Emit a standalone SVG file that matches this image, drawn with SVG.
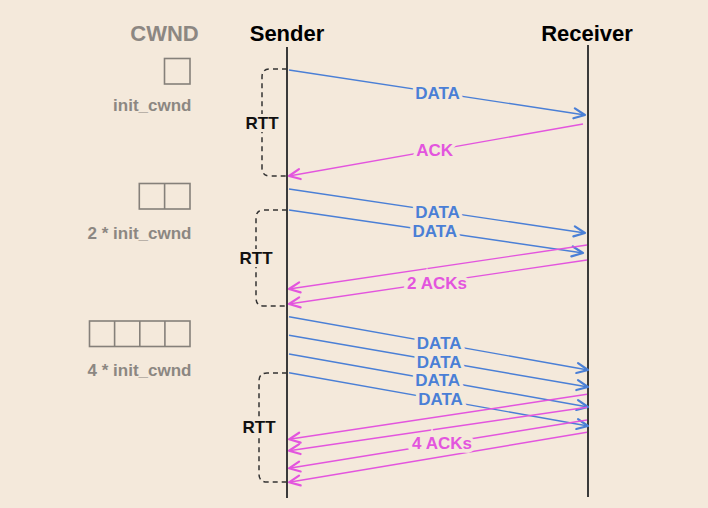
<svg xmlns="http://www.w3.org/2000/svg" width="708" height="508" viewBox="0 0 708 508">
<style>
  text { font-family: "Liberation Sans", Arial, sans-serif; font-weight: bold; }
  .hdr { font-size: 22px; fill: #000; text-anchor: middle; }
  .cw { font-size: 22px; fill: #8c8782; text-anchor: middle; }
  .cwl { font-size: 17px; fill: #8c8782; text-anchor: end; }
  .box { fill: none; stroke: #85807a; stroke-width: 1.6; }
  .life { stroke: #3a3a3a; stroke-width: 2; }
  .rtt { fill: none; stroke: #333; stroke-width: 1.5; stroke-dasharray: 5 4; }
  .rttl { font-size: 17px; fill: #111; text-anchor: middle; paint-order: stroke; stroke: #f4e9db; stroke-width: 6px; }
  .data { stroke: #4a7fd6; stroke-width: 1.4; fill: none; marker-end: url(#ab); }
  .ack { stroke: #e355de; stroke-width: 1.4; fill: none; marker-end: url(#am); }
  .dl { font-size: 17px; fill: #4a7fd6; text-anchor: middle; paint-order: stroke; stroke: #f4e9db; stroke-width: 7px; }
  .al { font-size: 17px; fill: #e355de; text-anchor: middle; paint-order: stroke; stroke: #f4e9db; stroke-width: 7px; }
</style>
<defs>
  <marker id="ab" markerUnits="userSpaceOnUse" markerWidth="16" markerHeight="16" viewBox="-13 -8 16 16" refX="0" refY="0" orient="auto">
    <path d="M-11,-5 L0,0 L-11,5" fill="none" stroke="#4a7fd6" stroke-width="2.2" stroke-linecap="round" stroke-linejoin="round"/>
  </marker>
  <marker id="am" markerUnits="userSpaceOnUse" markerWidth="16" markerHeight="16" viewBox="-13 -8 16 16" refX="0" refY="0" orient="auto">
    <path d="M-11,-5 L0,0 L-11,5" fill="none" stroke="#e355de" stroke-width="2.2" stroke-linecap="round" stroke-linejoin="round"/>
  </marker>
</defs>
<rect width="708" height="508" fill="#f4e9db"/>

<g id="cwnd-header"><text class="cw" x="164.5" y="41">CWND</text></g>
<g id="sender">
  <text class="hdr" x="287" y="41">Sender</text>
  <line class="life" x1="287" y1="47" x2="287" y2="498"/>
</g>
<g id="receiver">
  <text class="hdr" x="587" y="41">Receiver</text>
  <line class="life" x1="588" y1="45" x2="588" y2="497"/>
</g>

<g id="cwnd1">
  <rect class="box" x="164.5" y="58.5" width="25.5" height="25.5"/>
  <text class="cwl" x="191.5" y="111">init_cwnd</text>
</g>
<g id="cwnd2">
  <rect class="box" x="139.3" y="183.5" width="50.7" height="25.5"/>
  <line class="box" x1="164.6" y1="183.5" x2="164.6" y2="209"/>
  <text class="cwl" x="191.5" y="238.5">2 * init_cwnd</text>
</g>
<g id="cwnd4">
  <rect class="box" x="89.5" y="321" width="100.5" height="25.5"/>
  <line class="box" x1="114.6" y1="321" x2="114.6" y2="346.5"/>
  <line class="box" x1="139.8" y1="321" x2="139.8" y2="346.5"/>
  <line class="box" x1="164.9" y1="321" x2="164.9" y2="346.5"/>
  <text class="cwl" x="191.5" y="376">4 * init_cwnd</text>
</g>

<g id="rtt1">
  <path class="rtt" d="M287,69 H270 Q262,69 262,77 V168 Q262,176 270,176 H287"/>
  <text class="rttl" x="262" y="129">RTT</text>
</g>
<g id="rtt2">
  <path class="rtt" d="M287,210 H264 Q256,210 256,218 V298 Q256,306 264,306 H287"/>
  <text class="rttl" x="256" y="264">RTT</text>
</g>
<g id="rtt3">
  <path class="rtt" d="M287,373 H267 Q259,373 259,381 V474 Q259,482 267,482 H287"/>
  <text class="rttl" x="259" y="433">RTT</text>
</g>

<g id="connectors">
  <line class="data" x1="289" y1="70" x2="585" y2="115"/>
  <line class="ack" x1="583" y1="124" x2="289" y2="176"/>

  <line class="data" x1="289" y1="189" x2="585" y2="233"/>
  <line class="data" x1="289" y1="210" x2="583" y2="253"/>
  <line class="ack" x1="587" y1="245" x2="289" y2="289"/>
  <line class="ack" x1="587" y1="260" x2="289" y2="304"/>

  <line class="data" x1="289" y1="316.7" x2="588" y2="370"/>
  <line class="data" x1="289" y1="335.3" x2="588" y2="387"/>
  <line class="data" x1="289" y1="354" x2="588" y2="407"/>
  <line class="data" x1="289" y1="372.7" x2="588" y2="426"/>
  <line class="ack" x1="587" y1="394.3" x2="289" y2="439.3"/>
  <line class="ack" x1="587" y1="407.3" x2="289" y2="450.7"/>
  <line class="ack" x1="587" y1="420" x2="289" y2="468.3"/>
  <line class="ack" x1="587" y1="432.3" x2="289" y2="482.3"/>
</g>

<g id="labels">
  <text class="dl" x="437.5" y="99">DATA</text>
  <text class="al" x="434.7" y="156">ACK</text>
  <text class="dl" x="437.5" y="217.5">DATA</text>
  <text class="dl" x="434.8" y="237">DATA</text>
  <text class="al" x="437" y="288.5">2 ACKs</text>
  <text class="dl" x="439.2" y="349">DATA</text>
  <text class="dl" x="439.2" y="367.7">DATA</text>
  <text class="dl" x="437.7" y="386.3">DATA</text>
  <text class="dl" x="440.5" y="405">DATA</text>
  <text class="al" x="442" y="449.3">4 ACKs</text>
</g>
</svg>
